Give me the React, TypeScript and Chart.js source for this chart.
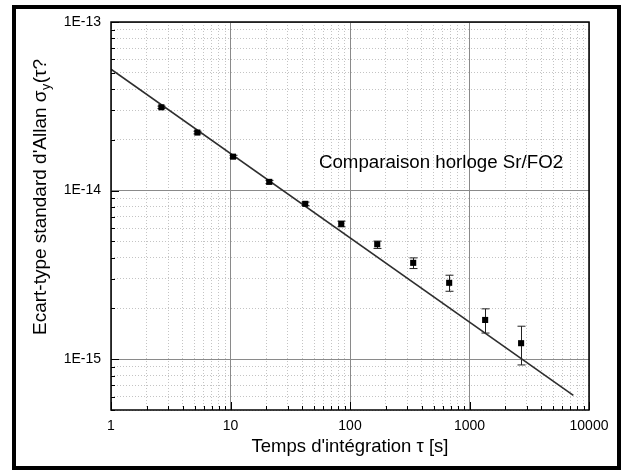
import React, { useEffect, useRef } from 'react';
import { Chart, registerables } from 'chart.js';

Chart.register(...registerables);

// ---- data ----
const tau = [2.64, 5.28, 10.5, 21.1, 42.2, 84.5, 169, 338, 676, 1352, 2703];
const sigma = [3.12e-14, 2.21e-14, 1.59e-14, 1.127e-14, 8.35e-15, 6.35e-15, 4.81e-15, 3.73e-15, 2.84e-15, 1.71e-15, 1.245e-15];
const sigmaHigh = [3.17e-14, 2.25e-14, 1.62e-14, 1.15e-14, 8.55e-15, 6.59e-15, 5.02e-15, 3.99e-15, 3.15e-15, 1.99e-15, 1.57e-15];
const sigmaLow = [3.07e-14, 2.17e-14, 1.56e-14, 1.10e-14, 8.15e-15, 6.10e-15, 4.54e-15, 3.45e-15, 2.53e-15, 1.43e-15, 9.25e-16];

const fitTau = [1, 7400];
const fitSigma = [5.25e-14, 6.1e-16];

const xDecades = [1, 10, 100, 1000, 10000];
const xTickLabels = ['1', '10', '100', '1000', '10000'];
const yDecades = [1e-15, 1e-14, 1e-13];
const yTickLabels = ['1E-15', '1E-14', '1E-13'];

const xMin = 1;
const xMax = 10000;
const yMin = 5e-16;
const yMax = 1e-13;

const xTitle = "Temps d'intégration τ [s]";
const yTitleMain = "Ecart-type standard d'Allan σ";
const yTitleSub = 'y';
const yTitleEnd = '(τ?';

const annotationText = 'Comparaison horloge Sr/FO2';
const annotationTau = 55;
const annotationSigma = 1.46e-14;

const FONT = "'Liberation Sans', Arial, Helvetica, sans-serif";

function buildLogTicks(min: number, max: number, decades: number[]) {
  const out: { value: number; major: boolean }[] = [];
  const all = [decades[0] / 10, ...decades];
  for (const d of all) {
    for (let m = 1; m <= 9; m++) {
      const v = d * m;
      if (v >= min * 0.999999 && v <= max * 1.000001) out.push({ value: v, major: m === 1 });
    }
  }
  return out;
}

function labelFor(v: number, decades: number[], labels: string[]) {
  for (let i = 0; i < decades.length; i++) {
    if (Math.abs(Math.log10(v) - Math.log10(decades[i])) < 1e-6) return labels[i];
  }
  return '';
}

const gridColor = (ctx: any) => (ctx.tick && ctx.tick.major ? '#8a8a8a' : '#c4c4c4');
const gridDash = (ctx: any) => (ctx.tick && ctx.tick.major ? [] : [1, 2]);

export default function App() {
  const ref = useRef<HTMLCanvasElement>(null);

  useEffect(() => {
    const canvas = ref.current!;

    const overlay = {
      id: 'overlay',
      beforeDraw(chart: any) {
        const c = chart.ctx;
        c.save();
        c.fillStyle = '#ffffff';
        c.fillRect(0, 0, chart.width, chart.height);
        c.restore();
      },
      beforeDatasetsDraw(chart: any) {
        const c = chart.ctx;
        const xs = chart.scales.x;
        const ys = chart.scales.y;
        c.save();
        c.strokeStyle = '#222';
        c.lineWidth = 1;
        for (let i = 0; i < tau.length; i++) {
          const px = Math.round(xs.getPixelForValue(tau[i])) + 0.5;
          const yh = ys.getPixelForValue(sigmaHigh[i]);
          const yl = ys.getPixelForValue(sigmaLow[i]);
          c.beginPath();
          c.moveTo(px, yh);
          c.lineTo(px, yl);
          c.moveTo(px - 4, yh);
          c.lineTo(px + 4, yh);
          c.moveTo(px - 4, yl);
          c.lineTo(px + 4, yl);
          c.stroke();
        }
        c.restore();
      },
      afterDraw(chart: any) {
        const c = chart.ctx;
        const a = chart.chartArea;
        const xs = chart.scales.x;
        const ys = chart.scales.y;
        c.save();
        // inward ticks
        c.strokeStyle = '#000';
        c.lineWidth = 1;
        c.beginPath();
        for (const t of xs.ticks) {
          const px = Math.round(xs.getPixelForValue(t.value)) + 0.5;
          const len = t.major ? 8 : 4;
          c.moveTo(px, a.bottom);
          c.lineTo(px, a.bottom - len);
        }
        for (const t of ys.ticks) {
          const py = Math.round(ys.getPixelForValue(t.value)) + 0.5;
          const len = t.major ? 8 : 4;
          c.moveTo(a.left, py);
          c.lineTo(a.left + len, py);
        }
        c.stroke();
        // plot frame
        c.lineWidth = 1.5;
        c.strokeRect(a.left, a.top, a.right - a.left, a.bottom - a.top);
        // outer frame
        c.lineWidth = 4;
        c.strokeRect(14, 7, chart.width - 16, chart.height - 10);

        // annotation
        c.fillStyle = '#000';
        c.font = `18.7px ${FONT}`;
        c.textAlign = 'left';
        c.textBaseline = 'middle';
        c.fillText(annotationText, xs.getPixelForValue(annotationTau), ys.getPixelForValue(annotationSigma));

        // x title
        c.font = `18.5px ${FONT}`;
        c.textAlign = 'center';
        c.textBaseline = 'alphabetic';
        c.fillText(xTitle, (a.left + a.right) / 2, 452);

        // y title with subscript
        c.translate(46, 335);
        c.rotate(-Math.PI / 2);
        c.textAlign = 'left';
        c.font = `19px ${FONT}`;
        c.fillText(yTitleMain, 0, 0);
        let w = c.measureText(yTitleMain).width;
        c.font = `12.5px ${FONT}`;
        c.fillText(yTitleSub, w + 0.5, 4);
        w += c.measureText(yTitleSub).width + 1;
        c.font = `19px ${FONT}`;
        c.fillText(yTitleEnd, w, 0);
        c.restore();
      },
    };

    const chart = new Chart(canvas, {
      type: 'scatter',
      data: {
        datasets: [
          {
            type: 'line',
            data: fitTau.map((x, i) => ({ x, y: fitSigma[i] })),
            borderColor: '#2e2e2e',
            borderWidth: 1.6,
            pointRadius: 0,
            fill: false,
            tension: 0,
            order: 2,
          } as any,
          {
            type: 'scatter',
            data: tau.map((x, i) => ({ x, y: sigma[i] })),
            pointStyle: 'rect',
            pointRadius: 4.3,
            backgroundColor: '#000',
            borderColor: '#000',
            borderWidth: 0,
            order: 1,
          } as any,
        ],
      },
      options: {
        responsive: false,
        animation: false,
        devicePixelRatio: 1,
        layout: { padding: { left: 0, right: 32, top: 22, bottom: 0 } },
        plugins: {
          legend: { display: false },
          tooltip: { enabled: false },
          title: { display: false },
        },
        scales: {
          x: {
            type: 'logarithmic',
            position: 'bottom',
            min: xMin,
            max: xMax,
            afterBuildTicks: (s: any) => {
              s.ticks = buildLogTicks(xMin, xMax, xDecades);
            },
            afterFit: (s: any) => {
              s.height = 61;
            },
            ticks: {
              autoSkip: false,
              maxRotation: 0,
              padding: 8,
              color: '#000',
              font: { family: FONT, size: 14 },
              callback: (v: any) => labelFor(Number(v), xDecades, xTickLabels),
            },
            grid: { drawTicks: false, color: gridColor, lineWidth: 1 },
            border: { display: false, dash: gridDash },
          },
          y: {
            type: 'logarithmic',
            position: 'left',
            min: yMin,
            max: yMax,
            afterBuildTicks: (s: any) => {
              s.ticks = buildLogTicks(yMin, yMax, yDecades);
            },
            afterFit: (s: any) => {
              s.width = 111;
            },
            ticks: {
              autoSkip: false,
              padding: 10,
              color: '#000',
              font: { family: FONT, size: 14 },
              callback: (v: any) => labelFor(Number(v), yDecades, yTickLabels),
            },
            grid: { drawTicks: false, color: gridColor, lineWidth: 1 },
            border: { display: false, dash: gridDash },
          },
        },
      } as any,
      plugins: [overlay],
    });

    return () => chart.destroy();
  }, []);

  return (
    <div style={{ position: 'fixed', left: 0, top: 0, width: 621, height: 471, background: '#fff' }}>
      <canvas ref={ref} width={621} height={471} style={{ display: 'block' }} />
    </div>
  );
}
